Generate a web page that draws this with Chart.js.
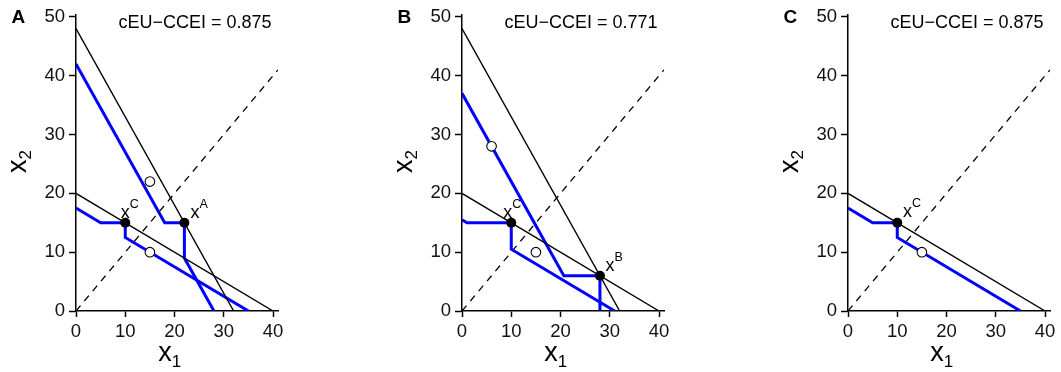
<!DOCTYPE html>
<html>
<head>
<meta charset="utf-8">
<script src="https://cdn.jsdelivr.net/npm/chart.js@4.4.1/dist/chart.umd.min.js"></script>
<style>
body{margin:0;background:#fff;width:1061px;height:372px;position:relative;overflow:hidden}
canvas{position:absolute;top:0}
</style>
</head>
<body>
<canvas id="panelA" width="289" height="372" style="left:0px"></canvas>
<canvas id="panelB" width="289" height="372" style="left:386px"></canvas>
<canvas id="panelC" width="289" height="372" style="left:772px"></canvas>
<script>
/* data */
const X_TICKS=[0,10,20,30,40];
const Y_TICKS=[0,10,20,30,40,50];
const DIAGONAL=[[0,0],[41,41]];
const BUDGET_STEEP=[[0,48],[32,0]];
const BUDGET_FLAT=[[0,20],[40,0]];
const DEMAND_A_HIGH=[[0,42],[18,15],[22,15],[22,9],[28,0]];
const DEMAND_LOW=[[0,17.5],[5,15],[10,15],[10,12.5],[35,0]];
const DEMAND_B_HIGH=[[0,37],[20.67,6],[28,6],[28,0]];
const DEMAND_B_LOW=[[0,15.5],[1,15],[10,15],[10,10.5],[31,0]];
const CHOICE_A=[22,15];
const CHOICE_B=[28,6];
const CHOICE_C=[10,15];
const OPEN_A=[[15,22],[15,10]];
const OPEN_B=[[6,28],[15,10]];
const OPEN_C=[[15,10]];
const PANEL_NAMES=["A","B","C"];
const CCEI=["0.875","0.771","0.875"];

const FONT="'Liberation Sans', Arial, sans-serif";
const BLUE="#0000ff";

const panels=[
{id:"panelA",budgets:[BUDGET_STEEP,BUDGET_FLAT],demands:[DEMAND_A_HIGH,DEMAND_LOW],choices:[CHOICE_C,CHOICE_A],tags:["C","A"],open:OPEN_A},
{id:"panelB",budgets:[BUDGET_STEEP,BUDGET_FLAT],demands:[DEMAND_B_HIGH,DEMAND_B_LOW],choices:[CHOICE_C,CHOICE_B],tags:["C","B"],open:OPEN_B},
{id:"panelC",budgets:[BUDGET_FLAT],demands:[DEMAND_LOW],choices:[CHOICE_C],tags:["C"],open:OPEN_C}
];
// where each x^k label sits relative to its point (px)
const tagOffsets=[[[-4.5,-5],[6,-5]],[[-8,-5],[5.5,-4.5]],[[5.7,-5.5]]];

const pts=a=>a.map(([x,y])=>({x,y}));

function line(data,color,width,dash){
return{data:pts(data),showLine:true,pointRadius:0,pointHitRadius:0,borderColor:color,borderWidth:width,borderDash:dash||[],fill:false,tension:0};
}

function drawSub(ctx,base,sub,x,y,big,small,shift){
ctx.font=big+"px "+FONT;
ctx.fillText(base,x,y);
let w=ctx.measureText(base).width;
ctx.font=small+"px "+FONT;
ctx.fillText(sub,x+w,y+shift);
}

function textPlugin(i){
let p=panels[i];
return{id:"panelText",afterDraw(chart){
let ctx=chart.ctx,xs=chart.scales.x,ys=chart.scales.y,area=chart.chartArea;
ctx.save();
ctx.fillStyle="#000";
ctx.textBaseline="alphabetic";
ctx.textAlign="left";
ctx.font="bold 19px "+FONT;
ctx.fillText(PANEL_NAMES[i],11.5,23);
ctx.font="18px "+FONT;
ctx.textAlign="center";
ctx.fillText("cEU\u2212CCEI = "+CCEI[i],195,28);
ctx.textAlign="left";
// axis titles x1 / x2
ctx.font="27px "+FONT;
let wx=ctx.measureText("x").width;
ctx.font="17px "+FONT;
let w1=ctx.measureText("1").width;
let cx=xs.getPixelForValue(20)-4.8;
drawSub(ctx,"x","1",cx-(wx+w1)/2,361,27,17,5.7);
ctx.save();
ctx.translate(25.5,(area.top+area.bottom)/2-1.5);
ctx.rotate(-Math.PI/2);
drawSub(ctx,"x","2",-(wx+w1)/2,0,27,17,5.7);
ctx.restore();
// x^k labels at the chosen bundles
p.choices.forEach((c,k)=>{
let o=tagOffsets[i][k];
let px=xs.getPixelForValue(c[0])+o[0],py=ys.getPixelForValue(c[1])+o[1];
drawSub(ctx,"x",p.tags[k],px,py,18,12.5,-10);
});
ctx.restore();
}};
}

function makeChart(i){
let p=panels[i];
let sets=[];
sets.push({data:pts(p.choices),showLine:false,pointRadius:5,pointBackgroundColor:"#000",pointBorderColor:"#000",pointBorderWidth:0});
sets.push({data:pts(p.open),showLine:false,pointRadius:4.8,pointBackgroundColor:"#fff",pointBorderColor:"#000",pointBorderWidth:1.1});
p.budgets.forEach(b=>sets.push(line(b,"#000",1.4)));
p.demands.forEach(d=>sets.push(line(d,BLUE,3)));
sets.push(line(DIAGONAL,"#000",1.3,[7,6]));
let tickFont={family:FONT,size:18.5};
new Chart(document.getElementById(p.id),{
type:"scatter",
data:{datasets:sets},
plugins:[textPlugin(i)],
options:{
responsive:false,animation:false,devicePixelRatio:1,
layout:{padding:{top:13,right:11,left:0,bottom:0}},
plugins:{legend:{display:false},tooltip:{enabled:false}},
scales:{
x:{type:"linear",min:0,max:41,
afterBuildTicks:s=>{s.ticks=X_TICKS.map(v=>({value:v}))},
afterFit:s=>{s.height=61},
grid:{display:true,drawOnChartArea:false,drawTicks:true,tickLength:6,tickWidth:1.5,tickColor:"#000"},
border:{display:true,color:"#000",width:1.5},
ticks:{color:"#111",font:tickFont,padding:4,maxRotation:0,autoSkip:false}},
y:{type:"linear",min:0,max:50.3,
afterBuildTicks:s=>{s.ticks=Y_TICKS.map(v=>({value:v}))},
afterFit:s=>{s.width=76},
grid:{display:true,drawOnChartArea:false,drawTicks:true,tickLength:7,tickWidth:1.5,tickColor:"#000"},
border:{display:true,color:"#000",width:1.5},
ticks:{color:"#111",font:tickFont,padding:4,autoSkip:false}}
}
}
});
}

panels.forEach((_,i)=>makeChart(i));
</script>
</body>
</html>
